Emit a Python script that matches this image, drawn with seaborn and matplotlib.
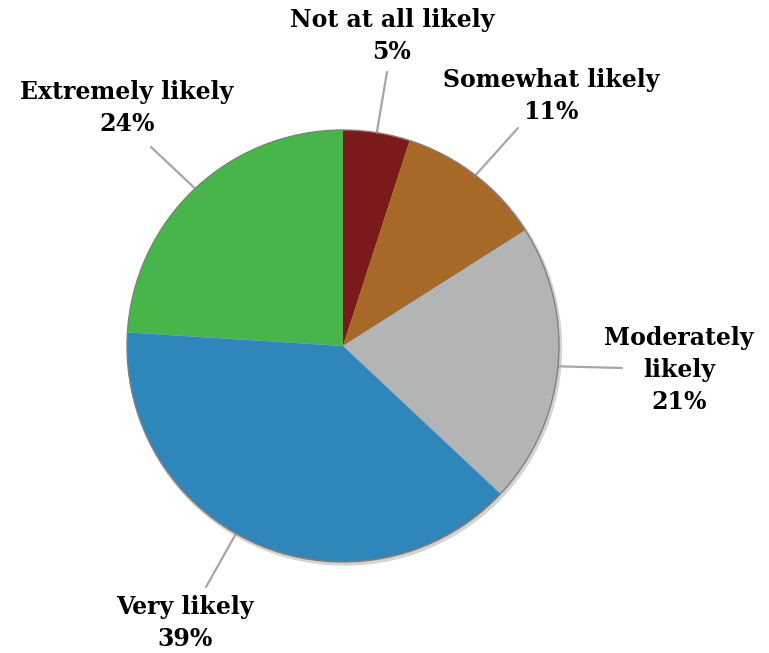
import numpy as np
import matplotlib
matplotlib.use("Agg")
import matplotlib.pyplot as plt
import seaborn as sns

categories = ["Not at all likely", "Somewhat likely", "Moderately\nlikely", "Very likely", "Extremely likely"]
values = [5, 11, 21, 39, 24]
colors = ["#7B1A1A", "#A86828", "#B3B5B5", "#2E86BA", "#47B54A"]

sns.set_theme(style="white")
plt.rcParams['font.family'] = ['DejaVu Serif']

W, H = 769, 653
fig = plt.figure(figsize=(W / 100, H / 100), dpi=100)
ax = fig.add_axes([0, 0, 1, 1])

cx, cy, R = 343, H - 346, 216

# subtle shadow
shadow = plt.Circle((cx + 1.5, cy - 2), R + 1, color="#d4d4d4", zorder=0)
ax.add_patch(shadow)

wedges, _ = ax.pie(values, colors=colors, startangle=90, counterclock=False,
                   center=(cx, cy), radius=R, frame=True,
                   wedgeprops=dict(edgecolor="none", linewidth=0))
outline = plt.Circle((cx, cy), R, fill=False, edgecolor="#7f7f7f", linewidth=1.0, zorder=5)
ax.add_patch(outline)
ax.set_xlim(0, W)
ax.set_ylim(0, H)
ax.set_aspect('equal')
ax.axis('off')

# label layout (pixel coords, y down): text center, leader outer end, leader start angle shift
text_pos = [(392, 36), (551, 96), (679, 370), (185, 623), (127, 108)]
line_end = [(387, 72), (518, 128), (622, 368), (206, 587), (151, 147)]
angle_shift = [0, 0, 0, -6.3, 0]

for w, cat, v, tp, le, sh in zip(wedges, categories, values, text_pos, line_end, angle_shift):
    mid = np.deg2rad((w.theta1 + w.theta2) / 2 + sh)
    x0, y0 = cx + R * np.cos(mid), cy + R * np.sin(mid)
    ax.plot([x0, le[0]], [y0, H - le[1]], color="#a6a6a6", linewidth=1.6, zorder=1)
    ax.text(tp[0], H - tp[1], f"{cat}\n{v}%", ha="center", va="center",
            fontsize=17, fontweight="bold", color="#000000", linespacing=1.4)

fig.savefig("out.png", dpi=100)
